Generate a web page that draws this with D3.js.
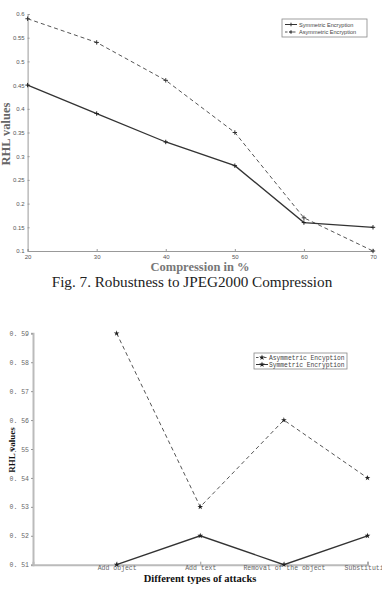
<!DOCTYPE html>
<html lang="en">
<head>
<meta charset="UTF-8">
<title>RHL values</title>
<script src="https://d3js.org/d3.v7.min.js"></script>
<style>
  body { margin: 0; background: #fff; }
  svg { display: block; }
  .tick1 text { font-family: "Liberation Sans", Arial, sans-serif; font-size: 6px; fill: #555; }
  .tick2 text { font-family: "Liberation Mono", "DejaVu Sans Mono", monospace; font-size: 6.5px; fill: #666; }
</style>
</head>
<body>
<svg id="chart" width="382" height="592"></svg>
<script>
// Fig. 7 data
const compression = [20, 30, 40, 50, 60, 70];
const symmetric1 = [0.45, 0.39, 0.33, 0.28, 0.16, 0.15];
const asymmetric1 = [0.59, 0.54, 0.46, 0.35, 0.17, 0.10];
const yTicks1 = [0.1, 0.15, 0.2, 0.25, 0.3, 0.35, 0.4, 0.45, 0.5, 0.55, 0.6];

// second figure data
const attacks = ["Add object", "Add text", "Removal of the object", "Substitution"];
const asymmetric2 = [0.59, 0.53, 0.56, 0.54];
const symmetric2 = [0.51, 0.52, 0.51, 0.52];
const yTicks2 = [0.51, 0.52, 0.53, 0.54, 0.55, 0.56, 0.57, 0.58, 0.59];

const svg = d3.select("#chart");

// ---------- chart 1 ----------
const x1 = d3.scaleLinear().domain([20, 70]).range([27.6, 373]);
const y1 = d3.scaleLinear().domain([0.1, 0.6]).range([251, 14]);
const g1 = svg.append("g");

const yAxis1 = g1.append("g").attr("class", "tick1")
  .attr("transform", `translate(${x1.range()[0]},0)`)
  .call(d3.axisLeft(y1).tickValues(yTicks1).tickSize(-2).tickPadding(3)
    .tickFormat(d => d3.format("~g")(d)));
const xAxis1 = g1.append("g").attr("class", "tick1")
  .attr("transform", `translate(0,${y1.range()[0]})`)
  .call(d3.axisBottom(x1).tickValues(compression).tickSize(-2).tickPadding(4));
[yAxis1, xAxis1].forEach(a => {
  a.select(".domain").attr("stroke", "#999").attr("stroke-width", 1);
  a.selectAll(".tick line").attr("stroke", "#999");
});

const line1 = d3.line().x((d, i) => x1(compression[i])).y(d => y1(d));
g1.append("path").datum(asymmetric1).attr("d", line1)
  .attr("fill", "none").attr("stroke", "#555").attr("stroke-width", 1)
  .attr("stroke-dasharray", "4,3");
g1.append("path").datum(symmetric1).attr("d", line1)
  .attr("fill", "none").attr("stroke", "#333").attr("stroke-width", 1.3);

function plus(g, x, y, s, color) {
  g.append("path").attr("d", `M${x - s},${y}H${x + s}M${x},${y - s}V${y + s}`)
    .attr("stroke", color).attr("stroke-width", 1);
}
asymmetric1.forEach((d, i) => plus(g1, x1(compression[i]), y1(d), 2.2, "#333"));
symmetric1.forEach((d, i) => plus(g1, x1(compression[i]), y1(d), 2.2, "#222"));

// legend 1
const lg1 = g1.append("g").attr("transform", "translate(282,19)");
lg1.append("rect").attr("width", 85).attr("height", 18)
  .attr("fill", "#fff").attr("stroke", "#888").attr("stroke-width", 0.8);
[["Symmetric Encryption", null, "#333"], ["Asymmetric Encryption", "2.5,1.5", "#555"]].forEach((e, i) => {
  const yy = 5.5 + i * 7.5;
  lg1.append("line").attr("x1", 3).attr("x2", 15).attr("y1", yy).attr("y2", yy)
    .attr("stroke", e[2]).attr("stroke-width", 1).attr("stroke-dasharray", e[1]);
  plus(lg1, 9, yy, 1.8, "#333");
  lg1.append("text").attr("x", 17).attr("y", yy + 2)
    .attr("font-family", "Liberation Sans, Arial, sans-serif").attr("font-size", 5.6)
    .attr("fill", "#444").text(e[0]);
});

g1.append("text").attr("transform", "translate(10,134) rotate(-90)")
  .attr("text-anchor", "middle").attr("font-family", "Liberation Serif, serif")
  .attr("font-weight", "bold").attr("font-size", 12.5).attr("fill", "#666").text("RHL values");
g1.append("text").attr("x", 200).attr("y", 271)
  .attr("text-anchor", "middle").attr("font-family", "Liberation Serif, serif")
  .attr("font-weight", "bold").attr("font-size", 12.5).attr("fill", "#777").text("Compression in %");
svg.append("text").attr("x", 192).attr("y", 287)
  .attr("text-anchor", "middle").attr("font-family", "Liberation Serif, serif")
  .attr("font-size", 15.2).attr("fill", "#222").text("Fig. 7. Robustness to JPEG2000 Compression");

// ---------- chart 2 ----------
const x2 = d3.scaleLinear().domain([0, 4]).range([33, 367.5]);
const y2 = d3.scaleLinear().domain([0.51, 0.59]).range([564.7, 333.3]);
const g2 = svg.append("g");

const yAxis2 = g2.append("g").attr("class", "tick2")
  .attr("transform", `translate(${x2.range()[0]},0)`)
  .call(d3.axisLeft(y2).tickValues(yTicks2).tickSize(2).tickPadding(2)
    .tickFormat(d => d3.format(".2f")(d).replace(".", ". ")));
const xAxis2 = g2.append("g").attr("class", "tick2")
  .attr("transform", `translate(0,${y2.range()[0]})`)
  .call(d3.axisBottom(x2).tickValues([1, 2, 3, 4]).tickSize(-3).tickPadding(1)
    .tickFormat((d, i) => attacks[i]));
[yAxis2, xAxis2].forEach(a => {
  a.select(".domain").attr("stroke", "#bbb").attr("stroke-width", 2);
  a.selectAll(".tick line").attr("stroke", "#999");
});

const line2 = d3.line().x((d, i) => x2(i + 1)).y(d => y2(d));
g2.append("path").datum(asymmetric2).attr("d", line2)
  .attr("fill", "none").attr("stroke", "#555").attr("stroke-width", 1)
  .attr("stroke-dasharray", "4,3");
g2.append("path").datum(symmetric2).attr("d", line2)
  .attr("fill", "none").attr("stroke", "#333").attr("stroke-width", 1.3);

const star = d3.symbol().type(d3.symbolStar).size(10);
asymmetric2.concat(symmetric2).forEach((d, i) => {
  g2.append("path").attr("d", star)
    .attr("transform", `translate(${x2((i % 4) + 1)},${y2(d)})`).attr("fill", "#222");
});

// legend 2
const lg2 = g2.append("g").attr("transform", "translate(254,353)");
lg2.append("rect").attr("width", 93).attr("height", 16)
  .attr("fill", "#fff").attr("stroke", "#888").attr("stroke-width", 0.8);
[["Asymmetric Encyption", "2.5,1.5", "#555"], ["Symmetric Encryption", null, "#333"]].forEach((e, i) => {
  const yy = 4.5 + i * 7;
  lg2.append("line").attr("x1", 2).attr("x2", 14).attr("y1", yy).attr("y2", yy)
    .attr("stroke", e[2]).attr("stroke-width", 1).attr("stroke-dasharray", e[1]);
  lg2.append("path").attr("d", star).attr("transform", `translate(8,${yy})`).attr("fill", "#222");
  lg2.append("text").attr("x", 15).attr("y", yy + 2)
    .attr("font-family", "Liberation Mono, DejaVu Sans Mono, monospace").attr("font-size", 6.3)
    .attr("fill", "#444").text(e[0]);
});

g2.append("text").attr("transform", "translate(15,450) rotate(-90)")
  .attr("text-anchor", "middle").attr("font-family", "Liberation Serif, serif")
  .attr("font-weight", "bold").attr("font-size", 9).attr("fill", "#111").text("RHL values");
g2.append("text").attr("x", 200).attr("y", 582)
  .attr("text-anchor", "middle").attr("font-family", "Liberation Serif, serif")
  .attr("font-weight", "bold").attr("font-size", 10.5).attr("fill", "#111").text("Different types of attacks");
</script>
</body>
</html>
